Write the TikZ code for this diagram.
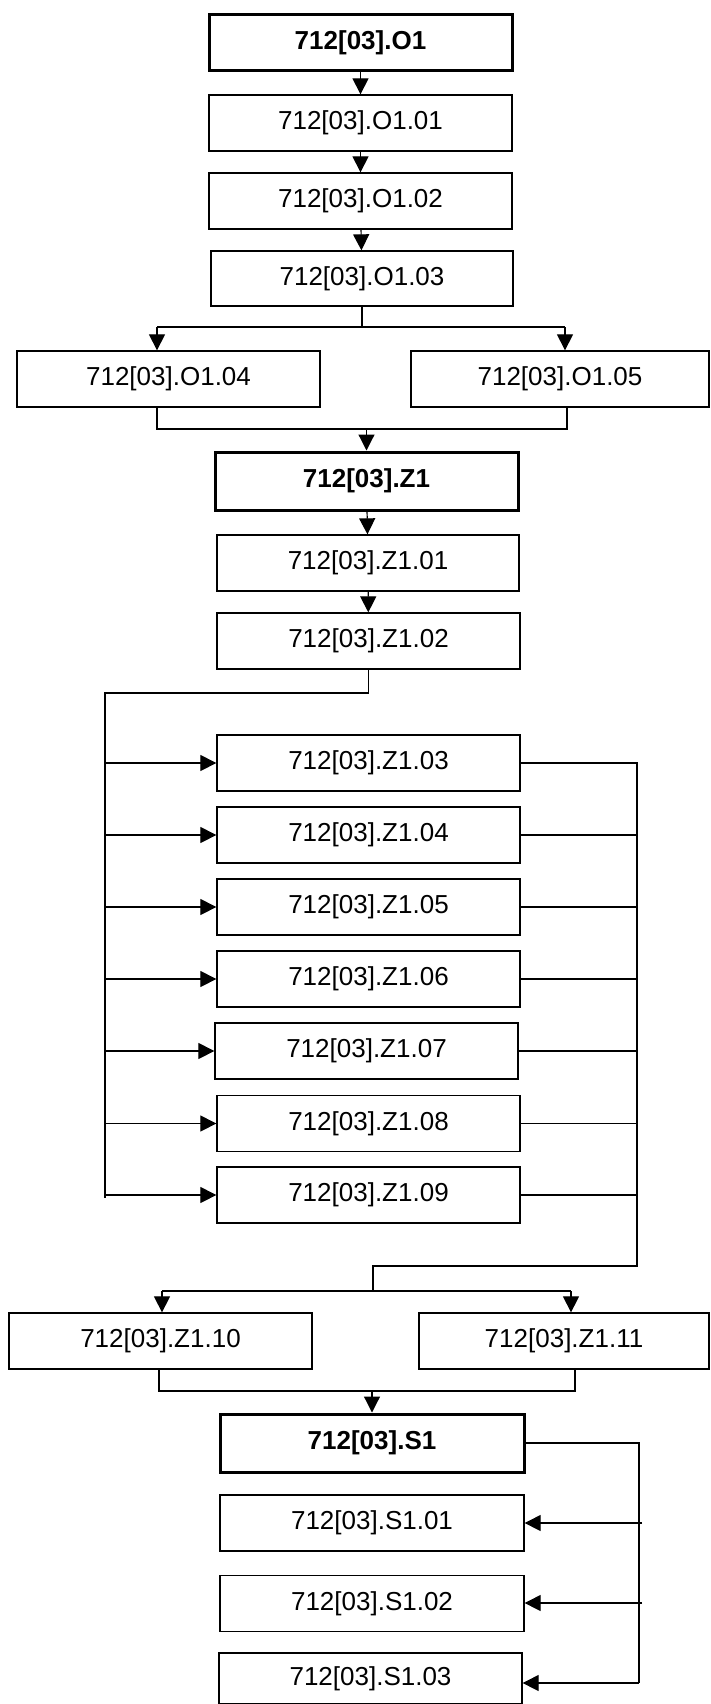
\documentclass[tikz,border=0pt]{standalone}
\usepackage{fontspec}
\setmainfont{Liberation Sans}
\usetikzlibrary{arrows.meta}
\tikzset{
  box/.style={draw, line width=1.3pt, inner sep=0pt, minimum width=303pt, minimum height=56pt, font=\fontsize{26}{30}\selectfont},
  mainbox/.style={box, line width=3pt, font=\fontsize{26}{30}\selectfont\bfseries},
  conn/.style={line width=1.2pt},
  arr/.style={conn, -{Triangle[length=16pt,width=16pt]}}
}
\begin{document}
\begin{tikzpicture}[x=1pt,y=-1pt]
\useasboundingbox (0,0) rectangle (710,1704);
% O block
\node[mainbox] (O1) at (360.5,43) {712[03].O1};
\node[box] (O11) at (360.5,123) {712[03].O1.01};
\node[box] (O12) at (360.5,201) {712[03].O1.02};
\node[box, minimum width=302pt, minimum height=55pt] (O13) at (362,278.5) {712[03].O1.03};
\node[box] (O14) at (168.5,379) {712[03].O1.04};
\node[box, minimum width=298pt] (O15) at (560,379) {712[03].O1.05};
% Z block
\node[mainbox, minimum height=58pt] (Z1) at (366.5,481) {712[03].Z1};
\node[box, minimum width=302pt] (Z101) at (368,563) {712[03].Z1.01};
\node[box] (Z102) at (368.5,641) {712[03].Z1.02};
\node[box] (Z103) at (368.5,763) {712[03].Z1.03};
\node[box] (Z104) at (368.5,835) {712[03].Z1.04};
\node[box] (Z105) at (368.5,907) {712[03].Z1.05};
\node[box] (Z106) at (368.5,979) {712[03].Z1.06};
\node[box] (Z107) at (366.5,1051) {712[03].Z1.07};
\node[box] (Z108) at (368.5,1123.5) {712[03].Z1.08};
\node[box] (Z109) at (368.5,1195) {712[03].Z1.09};
\node[box] (Z110) at (160.5,1341) {712[03].Z1.10};
\node[box, minimum width=290pt] (Z111) at (564,1341) {712[03].Z1.11};
% S block
\node[mainbox, minimum width=304pt, minimum height=58pt] (S1) at (372,1443) {712[03].S1};
\node[box, minimum width=304pt] (S101) at (372,1523) {712[03].S1.01};
\node[box, minimum width=304pt] (S102) at (372,1603.5) {712[03].S1.02};
\node[box, minimum height=51pt] (S103) at (370.5,1678.5) {712[03].S1.03};

% junction coordinates
\coordinate (a1) at (157,327);
\coordinate (a2) at (565,327);
\coordinate (b1) at (157,429);
\coordinate (b2) at (567,429);
\coordinate (c1) at (105,693);
\coordinate (c2) at (105,1198);
\coordinate (d1) at (637,762);
\coordinate (d2) at (637,1266);
\coordinate (e1) at (373,1266);
\coordinate (f1) at (162,1291);
\coordinate (f2) at (571,1291);
\coordinate (g1) at (159,1391);
\coordinate (g2) at (575,1391);
\coordinate (h1) at (639,1443);
\coordinate (h2) at (639,1683);
\coordinate (h3) at (642,1523);
\coordinate (h4) at (642,1603);

% O connectors
\draw[arr] (O1) -- (O11);
\draw[arr] (O11) -- (O12);
\draw[arr] (O12) -- (O13);
\draw[conn] (O13.south) -- (O13.south |- a1);
\draw[conn] (a1) -- (a2);
\draw[arr] (a1) -- (a1 |- O14.north);
\draw[arr] (a2) -- (a2 |- O15.north);
\draw[conn] (b1 |- O14.south) -- (b1) -- (b2) -- (b2 |- O15.south);
\draw[arr] (Z1.north |- b1) -- (Z1.north);

% Z connectors
\draw[arr] (Z1) -- (Z101);
\draw[arr] (Z101) -- (Z102);
\draw[conn] (Z102.south) -- (Z102.south |- c1) -- (c1) -- (c2);
\foreach \n in {Z103,Z104,Z105,Z106,Z107,Z108,Z109}{
  \draw[arr] (c1 |- \n.west) -- (\n.west);
  \draw[conn] (\n.east) -- (d1 |- \n.east);
}
\draw[conn] (d1) -- (d2) -- (e1) -- (e1 |- f1);
\draw[conn] (f1) -- (f2);
\draw[arr] (f1) -- (f1 |- Z110.north);
\draw[arr] (f2) -- (f2 |- Z111.north);
\draw[conn] (g1 |- Z110.south) -- (g1) -- (g2) -- (g2 |- Z111.south);
\draw[arr] (S1.north |- g1) -- (S1.north);

% S connectors
\draw[conn] (S1.east) -- (h1) -- (h2);
\draw[arr] (h3) -- (S101.east |- h3);
\draw[arr] (h4) -- (S102.east |- h4);
\draw[arr] (h2) -- (S103.east |- h2);
\end{tikzpicture}
\end{document}
